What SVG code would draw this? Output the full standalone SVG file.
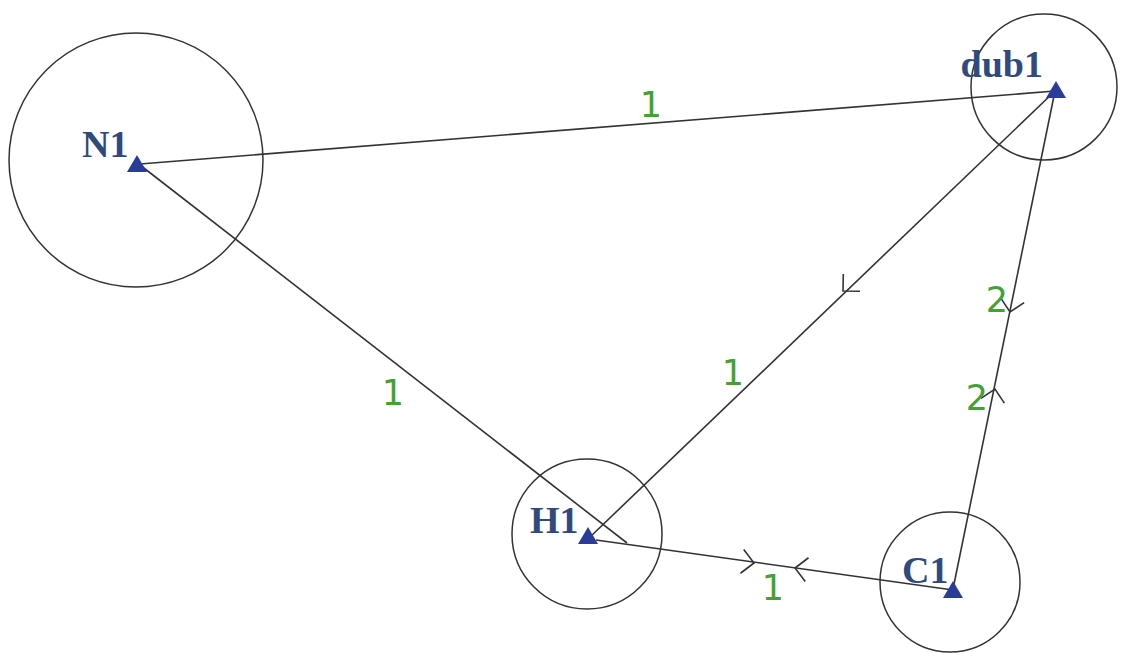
<svg xmlns="http://www.w3.org/2000/svg" width="1131" height="653" viewBox="0 0 1131 653">
<style>
.ring{fill:none;stroke:#333;stroke-width:1.5}
.edge{fill:none;stroke:#333;stroke-width:1.6}
.chev{fill:none;stroke:#333;stroke-width:1.6}
.tri{fill:#2a3c9a}
.name{font-family:"Liberation Serif",serif;font-weight:bold;font-size:38px;fill:#2f4a7c}
.w{font-family:"DejaVu Sans",sans-serif;font-size:35px;fill:#45a035;text-anchor:middle}
</style>
<defs>
<path id="chev" class="chev" d="M-12,-12 L0,0 L-12,12"/>
</defs>
<rect width="1131" height="653" fill="#fff"/>
<g id="connectors">
<line class="edge" x1="140" y1="164" x2="1055" y2="91"/>
<line class="edge" x1="140" y1="165" x2="627" y2="543"/>
<line class="edge" x1="590" y1="537" x2="1055" y2="91"/>
<line class="edge" x1="596" y1="540" x2="953" y2="590"/>
<line class="edge" x1="953" y1="589" x2="1055" y2="91"/>
<use href="#chev" transform="translate(843,291) rotate(136)"/>
<use href="#chev" transform="translate(754,563) rotate(7.8)"/>
<use href="#chev" transform="translate(795,568) rotate(187.8)"/>
<use href="#chev" transform="translate(1010,312) rotate(101.5)"/>
<use href="#chev" transform="translate(995,389) rotate(-78.5)"/>
<text class="w" x="651" y="117">1</text>
<text class="w" x="393" y="405">1</text>
<text class="w" x="733" y="385">1</text>
<text class="w" x="773" y="600">1</text>
<text class="w" x="997" y="312">2</text>
<text class="w" x="977" y="410">2</text>
</g>
<g id="N1">
<circle class="ring" cx="136" cy="160" r="127"/>
<polygon class="tri" points="137,155 127,172 147,172"/>
<text class="name" x="82" y="157">N1</text>
</g>
<g id="dub1">
<circle class="ring" cx="1044" cy="87" r="73"/>
<polygon class="tri" points="1056,81 1046,98 1066,98"/>
<text class="name" x="1043" y="77" text-anchor="end">dub1</text>
</g>
<g id="H1">
<circle class="ring" cx="587" cy="534" r="75"/>
<polygon class="tri" points="588,527 578,544 598,544"/>
<text class="name" x="530" y="533">H1</text>
</g>
<g id="C1">
<circle class="ring" cx="950" cy="582" r="70"/>
<polygon class="tri" points="953,581 943,598 963,598"/>
<text class="name" x="902" y="583">C1</text>
</g>
</svg>
